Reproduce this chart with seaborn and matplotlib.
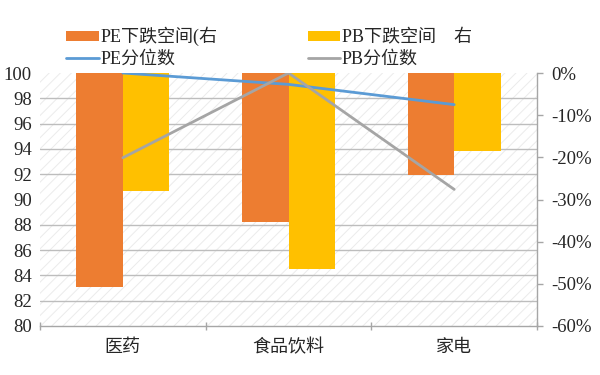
import numpy as np
import pandas as pd
import seaborn as sns
import matplotlib.pyplot as plt
from matplotlib.patches import Rectangle
from matplotlib.ticker import FuncFormatter

# data
categories = ['医药', '食品饮料', '家电']
pe_drop = [-50.7, -35.4, -24.3]   # PE下跌空间 (%), right axis
pb_drop = [-27.9, -46.5, -18.6]   # PB下跌空间 (%), right axis
pe_pct = [100.0, 99.1, 97.5]      # PE分位数, left axis
pb_pct = [93.3, 100.0, 90.8]      # PB分位数, left axis

bar_labels = ['PE下跌空间(右', 'PB下跌空间　右']
line_labels = ['PE分位数', 'PB分位数']
bar_colors = ['#ED7D31', '#FFC000']
line_colors = ['#5B9BD5', '#A5A5A5']
left_ticks = list(range(80, 101, 2))
right_ticks = list(range(-60, 1, 10))

sns.set_theme(style='white')
plt.rcParams['font.family'] = ['Liberation Serif', 'Noto Sans CJK SC']
plt.rcParams['hatch.linewidth'] = 0.7

bars = pd.DataFrame({
    '行业': categories * 2,
    '指标': [bar_labels[0]] * 3 + [bar_labels[1]] * 3,
    '值': pe_drop + pb_drop,
})
lines = pd.DataFrame({
    '行业': categories * 2,
    '指标': [line_labels[0]] * 3 + [line_labels[1]] * 3,
    '值': pe_pct + pb_pct,
})

fig = plt.figure(figsize=(6, 3.75), dpi=100)
ax = fig.add_axes([40 / 600, 49 / 375, 497 / 600, 253 / 375])

# hatched plot background
ax.add_patch(Rectangle((0, 0), 1, 1, transform=ax.transAxes, facecolor='white',
                       edgecolor='#ebebeb', linewidth=0, hatch='///', zorder=0.1))

sns.barplot(data=bars, x='行业', y='值', hue='指标', palette=bar_colors,
            width=0.56, gap=0, saturation=1, linewidth=0, ax=ax, zorder=2)

ax2 = ax.twinx()
sns.pointplot(data=lines, x='行业', y='值', hue='指标', palette=line_colors,
              markers='', linestyles='-', dodge=False, errorbar=None,
              linewidth=2, ax=ax2)

# bar axis (percent) on the right
ax.set_ylim(-60, 0)
ax.yaxis.tick_right()
ax.set_yticks(right_ticks)
ax.yaxis.set_major_formatter(FuncFormatter(lambda v, p: f'{int(v)}%'))
ax.set_yticks(np.linspace(-60, 0, len(left_ticks)), minor=True)
ax.set_axisbelow(True)
ax.grid(which='minor', axis='y', color='#bdbdbd', linewidth=1)
ax.grid(which='major', axis='y', visible=False)
ax.grid(axis='x', visible=False)
ax.tick_params(axis='y', which='major', right=True, length=4, width=1,
               color='#a6a6a6', labelsize=13.5, pad=6)
ax.tick_params(axis='y', which='minor', length=0)

ax.set_xlim(-0.5, len(categories) - 0.5)
ax.set_xticks(np.arange(-0.5, len(categories), 1), minor=True)
ax.tick_params(axis='x', which='major', length=0, labelsize=13, pad=9)
ax.tick_params(axis='x', which='minor', bottom=True, length=6, width=1,
               direction='inout', color='#a6a6a6')
ax.set_xlabel('')
ax.set_ylabel('')
for side in ['left', 'top']:
    ax.spines[side].set_visible(False)
for side in ['right', 'bottom']:
    ax.spines[side].set_color('#a6a6a6')
    ax.spines[side].set_linewidth(1)

# quantile axis on the left
ax2.set_ylim(80, 100)
ax2.set_yticks(left_ticks)
ax2.yaxis.tick_left()
ax2.tick_params(axis='y', length=0, labelsize=13.5, pad=6)
ax2.grid(False)
ax2.set_ylabel('')
for side in ax2.spines:
    ax2.spines[side].set_visible(False)

h1, l1 = ax.get_legend_handles_labels()
h2, l2 = ax2.get_legend_handles_labels()
for a in (ax, ax2):
    if a.get_legend() is not None:
        a.get_legend().remove()
handles = [h1[0], h2[0], h1[1], h2[1]]
labels = [l1[0], l2[0], l1[1], l2[1]]
fig.legend(handles, labels, ncol=2, loc='upper left',
           bbox_to_anchor=(66 / 600, 1 - 27 / 375), frameon=False, fontsize=13,
           handlelength=1.8, handleheight=0.45, handletextpad=0.1,
           columnspacing=5.0, labelspacing=0.25, borderpad=0, borderaxespad=0)

fig.savefig('out.png', dpi=100)
